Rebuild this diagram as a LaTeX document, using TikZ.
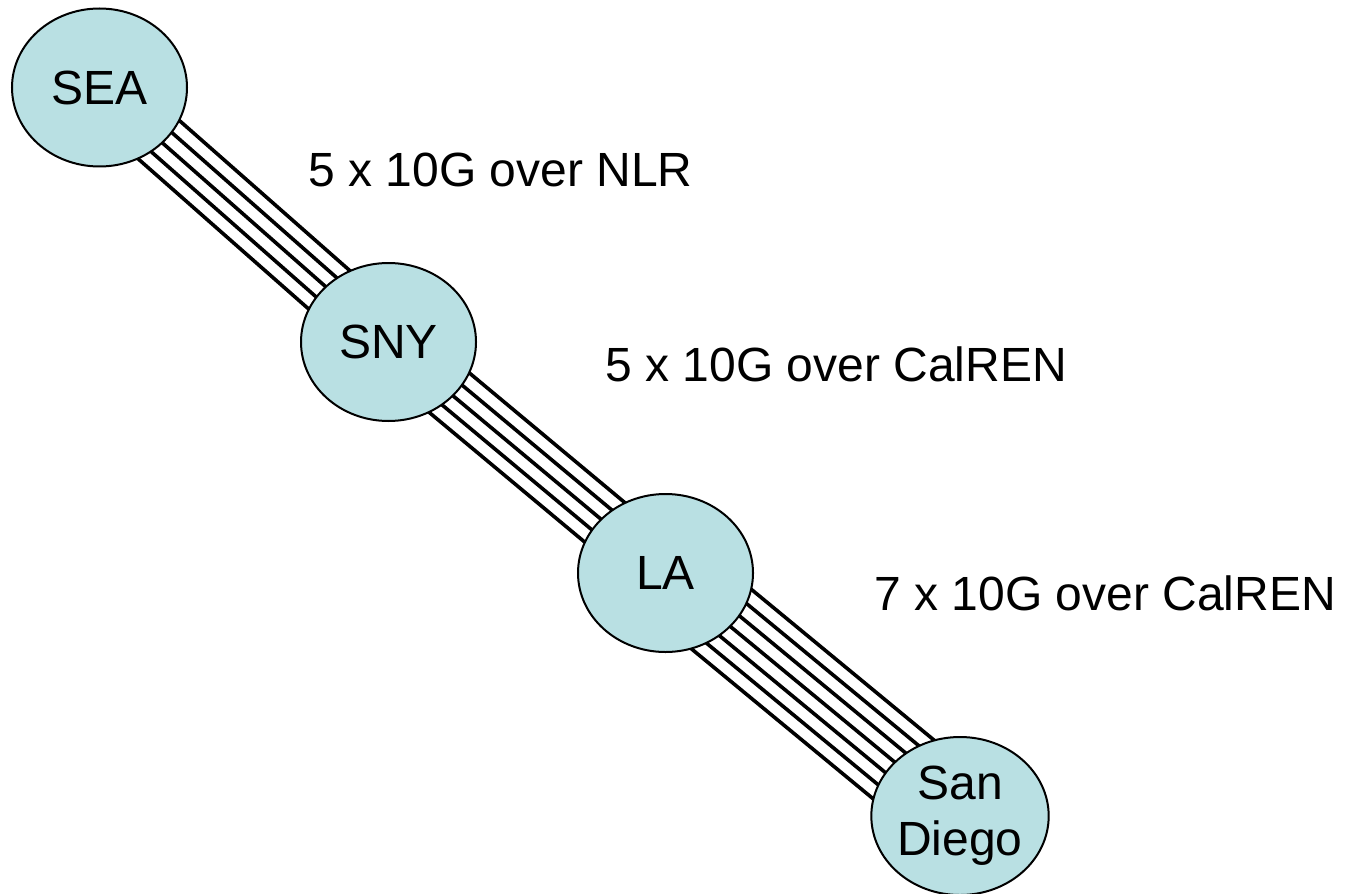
\documentclass[tikz,border=0pt]{standalone}
\usepackage{fontspec}
\setmainfont{Liberation Sans}
\usetikzlibrary{shapes.geometric,calc,backgrounds}
\definecolor{cityfill}{RGB}{185,224,227}
\begin{document}
\begin{tikzpicture}[x=0.5pt,y=-0.5pt,
  city/.style={ellipse,draw=black,line width=1pt,fill=cityfill,
    minimum width=87.5pt,minimum height=79pt,inner sep=0pt,
    font=\fontsize{24}{28}\selectfont,align=center},
  lbl/.style={anchor=base west,inner sep=0pt,font=\fontsize{24}{28}\selectfont},
  link/.style={draw=black,line width=1.8pt}]
\useasboundingbox (0,0) rectangle (1347,893);
\node[city] (SEA) at (99.5,87.5) {SEA};
\node[city] (SNY) at (388.5,342) {SNY};
\node[city] (LA) at (665.5,573) {LA};
\node[city] (SD) at (960,816) {San\\Diego};
\node[lbl] (l1) at (308,187) {5 x 10G over NLR};
\node[lbl] (l2) at (605,381) {5 x 10G over CalREN};
\node[lbl] (l3) at (874,610) {7 x 10G over CalREN};
\begin{scope}[on background layer]
\foreach \o in {-14pt,-7pt,0pt,7pt,14pt}{
  \draw[link] ($(SEA.center)!\o!90:(SNY.center)$) -- ($(SNY.center)!\o!-90:(SEA.center)$);
  \draw[link] ($(SNY.center)!\o!90:(LA.center)$) -- ($(LA.center)!\o!-90:(SNY.center)$);
}
\foreach \o in {-21pt,-14pt,-7pt,0pt,7pt,14pt,21pt}{
  \draw[link] ($(LA.center)!\o!90:(SD.center)$) -- ($(SD.center)!\o!-90:(LA.center)$);
}
\end{scope}
\end{tikzpicture}
\end{document}
